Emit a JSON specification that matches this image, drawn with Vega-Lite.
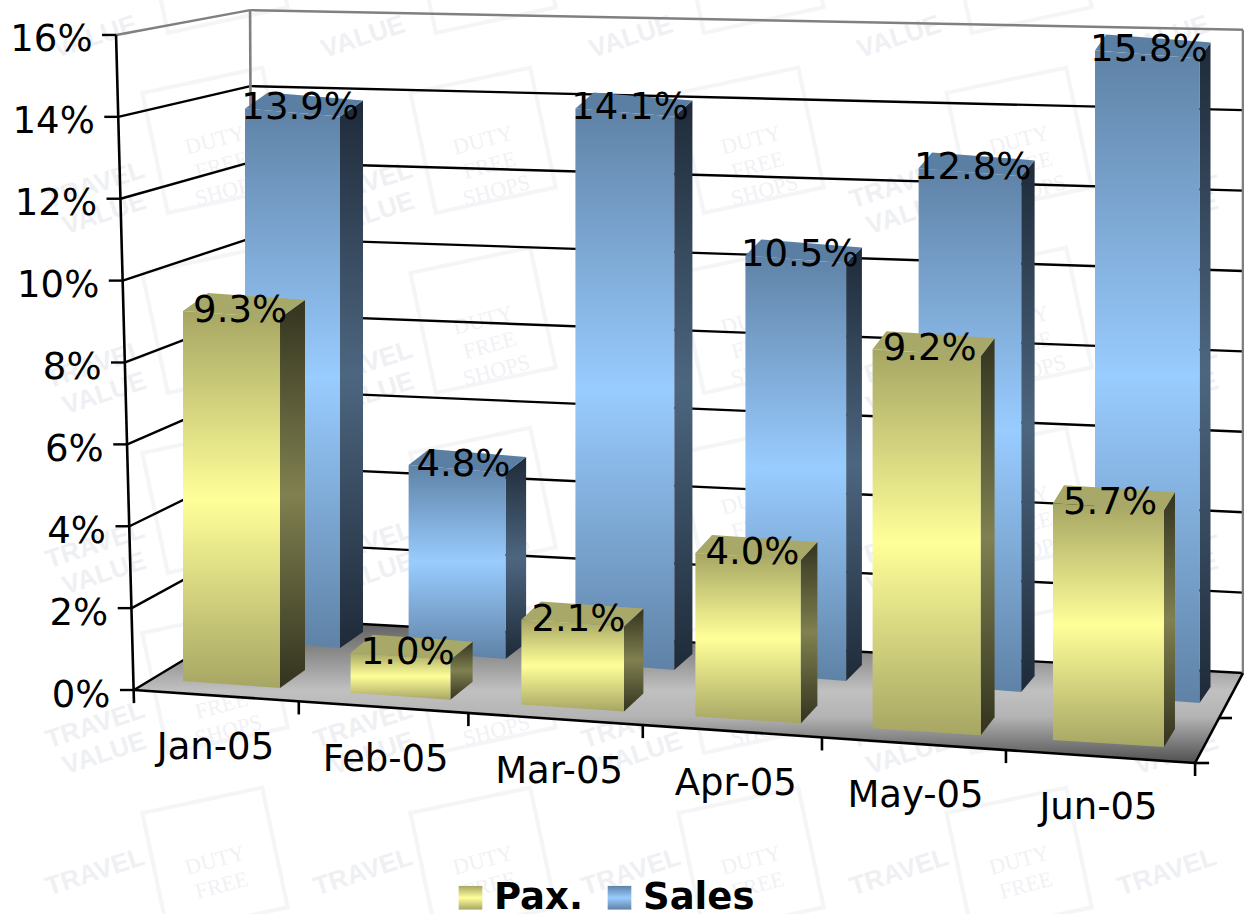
{
  "$schema": "https://vega.github.io/schema/vega-lite/v6.json",
  "width": 1244,
  "height": 914,
  "autosize": "none",
  "padding": 0,
  "background": "#ffffff",
  "config": {"view": {"stroke": null}, "font": "DejaVu Sans"},
  "datasets": {
    "bars": [
      {"month": "Jan-05", "series": "Pax.", "value": 9.3},
      {"month": "Feb-05", "series": "Pax.", "value": 1.0},
      {"month": "Mar-05", "series": "Pax.", "value": 2.1},
      {"month": "Apr-05", "series": "Pax.", "value": 4.0},
      {"month": "May-05", "series": "Pax.", "value": 9.2},
      {"month": "Jun-05", "series": "Pax.", "value": 5.7},
      {"month": "Jan-05", "series": "Sales", "value": 13.9},
      {"month": "Feb-05", "series": "Sales", "value": 4.8},
      {"month": "Mar-05", "series": "Sales", "value": 14.1},
      {"month": "Apr-05", "series": "Sales", "value": 10.5},
      {"month": "May-05", "series": "Sales", "value": 12.8},
      {"month": "Jun-05", "series": "Sales", "value": 15.8}
    ],
    "axisTicks": [{"t": 0}, {"t": 2}, {"t": 4}, {"t": 6}, {"t": 8}, {"t": 10}, {"t": 12}, {"t": 14}, {"t": 16}],
    "tiles": [{"col": 0}, {"col": 1}, {"col": 2}, {"col": 3}, {"col": 4}],
    "floorCorners": [{"k": 0}, {"k": 1}, {"k": 2}, {"k": 3}],
    "frameEdges": [{"k": 0}, {"k": 1}, {"k": 2}, {"k": 3}, {"k": 4}, {"k": 5}, {"k": 6}, {"k": 7}],
    "categoryEdges": [{"k": 1}, {"k": 2}, {"k": 3}, {"k": 4}, {"k": 5}]
  },
  "encoding": {
    "x": {"field": "xp", "type": "quantitative", "axis": null, "scale": {"domain": [-1.2338, 5.7746], "nice": false, "zero": false}},
    "y": {
      "field": "yp",
      "type": "quantitative",
      "stack": null,
      "scale": {"domain": [-5.471, 16.854], "nice": false, "zero": false},
      "axis": {
        "title": null,
        "values": [0, 2, 4, 6, 8, 10, 12, 14, 16],
        "labelExpr": "datum.value + '%'",
        "offset": -134,
        "zindex": 1,
        "domain": false,
        "ticks": false,
        "grid": false,
        "labelPadding": 24,
        "labelFontSize": 37,
        "labelFont": "DejaVu Sans",
        "labelColor": "#000000",
        "labelOverlap": false,
        "labelBound": false,
        "labelFlush": false,
        "labelOffset": 5,
        "encoding": {"labels": {"dx": {"value": {"expr": "-1.12 * datum.value"}}}}
      }
    }
  },
  "layer": [
    {
      "data": {"name": "tiles"},
      "transform": [
        {"calculate": "[0, 1, 2, 3]", "as": "row"},
        {"flatten": ["row"]},
        {"calculate": "-0.6986 + 1.51 * datum.col", "as": "xp"},
        {"calculate": "12.335 - 4.397 * datum.row", "as": "yp"}
      ],
      "mark": {"type": "text", "text": ["TRAVEL", "VALUE"], "font": "Liberation Sans", "fontWeight": "bold", "fontSize": 26, "lineHeight": 30, "angle": 342, "color": "#eff0f3", "align": "center", "baseline": "middle"}
    },
    {
      "data": {"name": "tiles"},
      "transform": [
        {"calculate": "-0.6986 + 1.51 * datum.col", "as": "xp"},
        {"calculate": "-4.45", "as": "yp"}
      ],
      "mark": {"type": "text", "text": "TRAVEL", "font": "Liberation Sans", "fontWeight": "bold", "fontSize": 26, "angle": 342, "color": "#eff0f3", "align": "center", "baseline": "middle"}
    },
    {
      "data": {"name": "tiles"},
      "transform": [
        {"calculate": "-0.6986 + 1.51 * datum.col", "as": "xp"},
        {"calculate": "15.95", "as": "yp"}
      ],
      "mark": {"type": "text", "text": "VALUE", "font": "Liberation Sans", "fontWeight": "bold", "fontSize": 26, "angle": 342, "color": "#eff0f3", "align": "center", "baseline": "middle"}
    },
    {
      "data": {"name": "tiles"},
      "transform": [
        {"filter": "datum.col < 4"},
        {"calculate": "[-1, 0, 1, 2, 3, 4]", "as": "row"},
        {"flatten": ["row"]},
        {"calculate": "-0.0225 + 1.51 * datum.col", "as": "xp"},
        {"calculate": "13.43 - 4.397 * datum.row", "as": "yp"}
      ],
      "layer": [
        {"mark": {"type": "point", "shape": "square", "filled": false, "size": 15000, "angle": 348, "stroke": "#f0f1f4", "strokeWidth": 4}},
        {
          "transform": [{"filter": "datum.row >= 0 && datum.row <= 3"}],
          "mark": {"type": "text", "text": ["DUTY", "FREE", "SHOPS"], "font": "Liberation Serif", "fontSize": 22, "lineHeight": 26, "angle": 345, "color": "#f1f1f5", "align": "center", "baseline": "middle"}
        },
        {
          "transform": [{"filter": "datum.row === 4"}],
          "mark": {"type": "text", "text": ["DUTY", "FREE"], "font": "Liberation Serif", "fontSize": 22, "lineHeight": 26, "angle": 345, "color": "#f1f1f5", "align": "center", "baseline": "middle"}
        }
      ]
    },
    {
      "data": {"name": "floorCorners"},
      "transform": [
        {"calculate": "[-0.479, 0.192, 5.499, 5.769][datum.k]", "as": "xp"},
        {"calculate": "[0, 1.759, 0.481, 0.415][datum.k]", "as": "yp"},
        {"calculate": "[0, -0.2, -1.783, 0.415][datum.k]", "as": "yq"}
      ],
      "mark": {
        "type": "area",
        "orient": "vertical",
        "fill": {"gradient": "linear", "x1": 0, "y1": 0, "x2": 0, "y2": 1, "stops": [{"offset": 0, "color": "#5a5a5a"}, {"offset": 0.5, "color": "#c0c0c0"}, {"offset": 0.68, "color": "#b4b4b4"}, {"offset": 1, "color": "#505050"}]}
      },
      "encoding": {"y2": {"field": "yq"}}
    },
    {
      "data": {"name": "axisTicks"},
      "transform": [
        {"calculate": "-0.479 - 0.00631 * datum.t", "as": "xp"},
        {"calculate": "datum.t", "as": "yp"},
        {"calculate": "0.192 - 0.00106 * datum.t", "as": "xq"},
        {"calculate": "1.759 + 0.928 * datum.t", "as": "yq"}
      ],
      "mark": {"type": "rule", "strokeWidth": 2.4},
      "encoding": {
        "x2": {"field": "xq"},
        "y2": {"field": "yq"},
        "stroke": {"condition": {"test": "datum.t === 16", "value": "#808080"}, "value": "#000000"}
      }
    },
    {
      "data": {"name": "axisTicks"},
      "transform": [
        {"calculate": "0.192 - 0.00106 * datum.t", "as": "xp"},
        {"calculate": "1.759 + 0.928 * datum.t", "as": "yp"},
        {"calculate": "5.769", "as": "xq"},
        {"calculate": "0.415 + 0.982 * datum.t", "as": "yq"}
      ],
      "mark": {"type": "rule", "strokeWidth": 2.4},
      "encoding": {
        "x2": {"field": "xq"},
        "y2": {"field": "yq"},
        "stroke": {"condition": {"test": "datum.t === 16", "value": "#808080"}, "value": "#000000"}
      }
    },
    {
      "data": {"name": "axisTicks"},
      "transform": [
        {"calculate": "-0.479 - 0.00631 * datum.t", "as": "xq"},
        {"calculate": "datum.xq - 0.079", "as": "xp"},
        {"calculate": "datum.t", "as": "yp"}
      ],
      "mark": {"type": "rule", "strokeWidth": 2.4, "stroke": "#000000"},
      "encoding": {"x2": {"field": "xq"}}
    },
    {
      "data": {"name": "frameEdges"},
      "transform": [
        {"calculate": "[0.175, 5.769, -0.58, -0.479, 5.499, 5.499, 5.499, 5.633][datum.k]", "as": "xp"},
        {"calculate": "[16.607, 16.127, 16, 0, -1.783, -1.783, -1.783, -0.684][datum.k]", "as": "yp"},
        {"calculate": "[0.192, 5.769, -0.479, 5.499, 5.769, 5.499, 5.578, 5.707][datum.k]", "as": "xq"},
        {"calculate": "[1.759, 0.415, -0.32, -1.783, 0.415, -2.1, -1.783, -0.684][datum.k]", "as": "yq"}
      ],
      "mark": {"type": "rule", "strokeWidth": 2.6},
      "encoding": {
        "x2": {"field": "xq"},
        "y2": {"field": "yq"},
        "stroke": {"condition": {"test": "datum.k < 2", "value": "#808080"}, "value": "#000000"}
      }
    },
    {
      "data": {"name": "categoryEdges"},
      "transform": [
        {"calculate": "-0.479 + 0.915 * datum.k + 0.0135 * datum.k * datum.k", "as": "xp"},
        {"calculate": "-1.783 * (datum.xp + 0.479) / 5.978", "as": "yp"},
        {"calculate": "datum.yp - 0.32", "as": "yq"}
      ],
      "mark": {"type": "rule", "strokeWidth": 2.6, "stroke": "#000000"},
      "encoding": {"y2": {"field": "yq"}}
    },
    {
      "data": {"name": "bars"},
      "transform": [
        {"calculate": "indexof(['Jan-05','Feb-05','Mar-05','Apr-05','May-05','Jun-05'], datum.month)", "as": "i"},
        {"calculate": "datum.series === 'Pax.'", "as": "front"},
        {"calculate": "datum.front ? -0.2028 + 0.9352 * datum.i + 0.00901 * datum.i * datum.i : 0.1465 + 0.9127 * datum.i + 0.00901 * datum.i * datum.i", "as": "L"},
        {"calculate": "datum.front ? 0.5465 + 0.01577 * datum.i : 0.5352 + 0.0107 * datum.i", "as": "W"},
        {"calculate": "datum.front ? 0.2198 - 0.2882 * datum.i : 1.2213 - 0.2687 * datum.i", "as": "B"},
        {"calculate": "datum.front ? 0.972 + 0.00855 * datum.i : 0.934 + 0.0125 * datum.i", "as": "S"},
        {"calculate": "datum.front ? 0.171 : 0.195", "as": "K"},
        {"calculate": "datum.front ? 0.1408 - 0.01577 * datum.i : 0.1296 - 0.01352 * datum.i", "as": "DX"},
        {"calculate": "datum.front ? 0.44 : 0.39", "as": "DY"},
        {"calculate": "datum.B + datum.value * datum.S", "as": "T"}
      ],
      "layer": [
        {
          "transform": [
            {"filter": "datum.series === 'Sales'"},
            {"calculate": "[0, 1]", "as": "t"},
            {"flatten": ["t"]},
            {"calculate": "datum.L + datum.W + datum.DX * datum.t", "as": "xp"},
            {"calculate": "datum.T - datum.K + datum.DY * datum.t", "as": "yp"},
            {"calculate": "datum.B - datum.K + datum.DY * datum.t", "as": "yq"}
          ],
          "mark": {"type": "area", "orient": "vertical", "fill": {"gradient": "linear", "x1": 0, "y1": 0, "x2": 0, "y2": 1, "stops": [{"offset": 0, "color": "#1e2a38"}, {"offset": 0.5, "color": "#4d6680"}, {"offset": 1, "color": "#1e2a38"}]}},
          "encoding": {"y2": {"field": "yq"}, "detail": {"field": "month"}}
        },
        {
          "transform": [
            {"filter": "datum.series === 'Sales'"},
            {"calculate": "[0, 1, 2, 3]", "as": "t"},
            {"flatten": ["t"]},
            {"calculate": "[datum.L, datum.L + datum.DX, datum.L + datum.W, datum.L + datum.W + datum.DX][datum.t]", "as": "xp"},
            {"calculate": "[datum.T, datum.T + datum.DY, datum.T + datum.DY - datum.K * (datum.W - datum.DX) / datum.W, datum.T - datum.K + datum.DY][datum.t]", "as": "yp"},
            {"calculate": "[datum.T, datum.T - datum.K * datum.DX / datum.W, datum.T - datum.K, datum.T - datum.K + datum.DY][datum.t]", "as": "yq"}
          ],
          "mark": {"type": "area", "orient": "vertical", "fill": "#5b7fa3"},
          "encoding": {"y2": {"field": "yq"}, "detail": {"field": "month"}}
        },
        {
          "transform": [
            {"filter": "datum.series === 'Sales'"},
            {"calculate": "[0, 1]", "as": "t"},
            {"flatten": ["t"]},
            {"calculate": "datum.L + datum.W * datum.t", "as": "xp"},
            {"calculate": "datum.T - datum.K * datum.t", "as": "yp"},
            {"calculate": "datum.B - datum.K * datum.t", "as": "yq"}
          ],
          "mark": {"type": "area", "orient": "vertical", "fill": {"gradient": "linear", "x1": 0, "y1": 0, "x2": 0, "y2": 1, "stops": [{"offset": 0, "color": "#5f82a6"}, {"offset": 0.5, "color": "#99ccff"}, {"offset": 1, "color": "#5f82a6"}]}},
          "encoding": {"y2": {"field": "yq"}, "detail": {"field": "month"}}
        },
        {
          "transform": [
            {"filter": "datum.series === 'Pax.'"},
            {"calculate": "[0, 1]", "as": "t"},
            {"flatten": ["t"]},
            {"calculate": "datum.L + datum.W + datum.DX * datum.t", "as": "xp"},
            {"calculate": "datum.T - datum.K + datum.DY * datum.t", "as": "yp"},
            {"calculate": "datum.B - datum.K + datum.DY * datum.t", "as": "yq"}
          ],
          "mark": {"type": "area", "orient": "vertical", "fill": {"gradient": "linear", "x1": 0, "y1": 0, "x2": 0, "y2": 1, "stops": [{"offset": 0, "color": "#33331f"}, {"offset": 0.5, "color": "#808050"}, {"offset": 1, "color": "#33331f"}]}},
          "encoding": {"y2": {"field": "yq"}, "detail": {"field": "month"}}
        },
        {
          "transform": [
            {"filter": "datum.series === 'Pax.'"},
            {"calculate": "[0, 1, 2, 3]", "as": "t"},
            {"flatten": ["t"]},
            {"calculate": "[datum.L, datum.L + datum.DX, datum.L + datum.W, datum.L + datum.W + datum.DX][datum.t]", "as": "xp"},
            {"calculate": "[datum.T, datum.T + datum.DY, datum.T + datum.DY - datum.K * (datum.W - datum.DX) / datum.W, datum.T - datum.K + datum.DY][datum.t]", "as": "yp"},
            {"calculate": "[datum.T, datum.T - datum.K * datum.DX / datum.W, datum.T - datum.K, datum.T - datum.K + datum.DY][datum.t]", "as": "yq"}
          ],
          "mark": {"type": "area", "orient": "vertical", "fill": "#a8a868"},
          "encoding": {"y2": {"field": "yq"}, "detail": {"field": "month"}}
        },
        {
          "transform": [
            {"filter": "datum.series === 'Pax.'"},
            {"calculate": "[0, 1]", "as": "t"},
            {"flatten": ["t"]},
            {"calculate": "datum.L + datum.W * datum.t", "as": "xp"},
            {"calculate": "datum.T - datum.K * datum.t", "as": "yp"},
            {"calculate": "datum.B - datum.K * datum.t", "as": "yq"}
          ],
          "mark": {"type": "area", "orient": "vertical", "fill": {"gradient": "linear", "x1": 0, "y1": 0, "x2": 0, "y2": 1, "stops": [{"offset": 0, "color": "#a6a664"}, {"offset": 0.5, "color": "#ffff99"}, {"offset": 1, "color": "#a6a664"}]}},
          "encoding": {"y2": {"field": "yq"}, "detail": {"field": "month"}}
        },
        {
          "transform": [
            {"calculate": "datum.L", "as": "xp"},
            {"calculate": "datum.T", "as": "yp"}
          ],
          "mark": {"type": "point", "filled": false, "size": 0},
          "encoding": {
            "stroke": {
              "field": "series",
              "type": "nominal",
              "scale": {"domain": ["Pax.", "Sales"], "range": ["#d0d07f", "#7ca6d2"]},
              "legend": {
                "title": null,
                "orient": "none",
                "legendX": 452,
                "legendY": 879,
                "direction": "horizontal",
                "columns": 2,
                "symbolType": "square",
                "symbolSize": 560,
                "symbolStrokeWidth": 0,
                "symbolOpacity": 1,
                "labelFontSize": 37,
                "labelFontWeight": "bold",
                "labelFont": "DejaVu Sans",
                "labelColor": "#000000",
                "labelOffset": 5,
                "columnPadding": 17,
                "padding": 0,
                "encoding": {"symbols": {"fill": {"value": {"expr": "{gradient: 'linear', x1: 0, y1: 0, x2: 0, y2: 1, stops: datum.value === 'Pax.' ? [{offset: 0, color: '#a6a664'}, {offset: 0.5, color: '#ffff99'}, {offset: 1, color: '#a6a664'}] : [{offset: 0, color: '#5f82a6'}, {offset: 0.5, color: '#99ccff'}, {offset: 1, color: '#5f82a6'}]}"}}}}
              }
            }
          }
        },
        {
          "transform": [
            {"calculate": "datum.L + datum.W / 2 + datum.DX / 2 - 0.022", "as": "xp"},
            {"calculate": "datum.T", "as": "yp"},
            {"calculate": "format(datum.value, '.1f') + '%'", "as": "label"}
          ],
          "mark": {"type": "text", "fontSize": 37, "font": "DejaVu Sans", "color": "#000000", "align": "center", "baseline": "middle"},
          "encoding": {"text": {"field": "label"}}
        },
        {
          "transform": [
            {"filter": "datum.series === 'Pax.'"},
            {"calculate": "-0.02 + 0.95 * datum.i + 0.009 * datum.i * datum.i", "as": "xp"},
            {"calculate": "-1.417 - 0.293 * datum.i", "as": "yp"}
          ],
          "mark": {"type": "text", "fontSize": 37, "font": "DejaVu Sans", "color": "#000000", "align": "center", "baseline": "middle"},
          "encoding": {"text": {"field": "month"}}
        }
      ]
    }
  ]
}
